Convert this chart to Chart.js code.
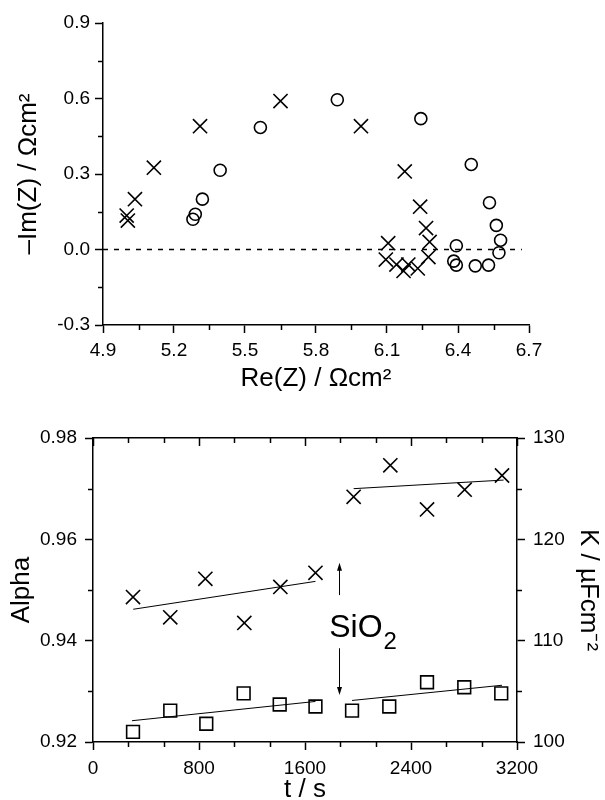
<!DOCTYPE html>
<html>
<head>
<meta charset="utf-8">
<script src="https://cdn.jsdelivr.net/npm/chart.js@4.4.1/dist/chart.umd.min.js"></script>
<style>
    html, body { margin: 0; padding: 0; background: #fff; }
    #wrap { position: relative; width: 605px; height: 800px; }
    canvas { position: absolute; left: 0; }
    #nyquist { top: 0; }
    #params { top: 400px; }
</style>
</head>
<body>
<div id="wrap">
    <canvas id="nyquist" width="605" height="400"></canvas>
    <canvas id="params" width="605" height="400"></canvas>
</div>
<script>
/* top plot: impedance spectra */
const reTicks = [4.9, 5.2, 5.5, 5.8, 6.1, 6.4, 6.7];
const imTicks = [-0.3, 0.0, 0.3, 0.6, 0.9];

const crossRe = [5.00, 5.005, 5.035, 5.115, 5.31, 5.65, 5.99, 6.175, 6.24, 6.265, 6.28, 6.105, 6.275, 6.095, 6.14, 6.17, 6.19, 6.23];
const crossIm = [0.135, 0.115, 0.20, 0.325, 0.49, 0.59, 0.49, 0.31, 0.17, 0.085, 0.03, 0.025, -0.03, -0.04, -0.06, -0.085, -0.06, -0.075];

const circleRe = [5.28, 5.29, 5.32, 5.395, 5.565, 5.89, 6.243, 6.456, 6.533, 6.562, 6.58, 6.573, 6.393, 6.382, 6.393, 6.473, 6.529];
const circleIm = [0.12, 0.14, 0.20, 0.315, 0.485, 0.595, 0.52, 0.338, 0.186, 0.096, 0.037, -0.013, 0.015, -0.046, -0.062, -0.065, -0.062];

const zeroLineRe = [4.9, 6.67];

/* bottom plot: CPE parameters vs time */
const tTicks = [0, 800, 1600, 2400, 3200];
const alphaTicks = [0.92, 0.94, 0.96, 0.98];
const kTicks = [100, 110, 120, 130];

const alphaT = [302, 583, 848, 1142, 1414, 1679, 1967, 2244, 2521, 2805, 3087];
const alphaVal = [0.9486, 0.9446, 0.9522, 0.9435, 0.9506, 0.9534, 0.9684, 0.9746, 0.9659, 0.9698, 0.9726];

const kT = [302, 583, 855, 1137, 1409, 1679, 1955, 2236, 2521, 2802, 3081];
const kVal = [101.0, 103.1, 101.8, 104.8, 103.7, 103.5, 103.1, 103.5, 105.9, 105.4, 104.8];

const alphaFit1T = [304, 1679], alphaFit1 = [0.9462, 0.9517];
const alphaFit2T = [1967, 3099], alphaFit2 = [0.9700, 0.9717];
const kFit1T = [294, 1679], kFit1 = [102.1, 104.0];
const kFit2T = [1955, 3087], kFit2 = [104.1, 105.6];

/* SiO2 addition marker */
const sio2T = 1854;
const arrowUp = [0.9490, 0.9554];
const arrowDown = [0.9385, 0.9293];
const sio2LabelT = 1783, sio2LabelAlpha = 0.9407;

const FONT = "'Liberation Sans', Arial, sans-serif";

function pts(xs, ys) {
    return xs.map(function (x, i) { return { x: x, y: ys[i] }; });
}

function midpoints(ticks, parts) {
    var out = [];
    for (var i = 0; i < ticks.length - 1; i++) {
        for (var k = 1; k < parts; k++) {
            out.push(ticks[i] + (ticks[i + 1] - ticks[i]) * k / parts);
        }
    }
    return out;
}

// extra tick marks (minor ones, and inward ones on the frame)
const tickMarks = {
    id: 'tickMarks',
    afterDraw: function (chart, args, opts) {
        var ctx = chart.ctx, area = chart.chartArea;
        ctx.save();
        ctx.strokeStyle = '#000';
        ctx.lineWidth = 1.5;
        (opts.marks || []).forEach(function (m) {
            var sc = chart.scales[m.scale];
            m.values.forEach(function (v) {
                var p = Math.round(sc.getPixelForValue(v)) + 0.5;
                ctx.beginPath();
                if (sc.isHorizontal()) {
                    var y = m.edge === 'top' ? area.top : area.bottom;
                    ctx.moveTo(p, y);
                    ctx.lineTo(p, y + m.len);
                } else {
                    var x = m.edge === 'right' ? area.right : area.left;
                    ctx.moveTo(x, p);
                    ctx.lineTo(x + m.len, p);
                }
                ctx.stroke();
            });
        });
        ctx.restore();
    }
};

const sio2Note = {
    id: 'sio2Note',
    afterDatasetsDraw: function (chart) {
        var ctx = chart.ctx;
        var x = Math.round(chart.scales.x.getPixelForValue(sio2T)) + 0.5;
        var y = chart.scales.y;
        ctx.save();
        ctx.strokeStyle = '#000';
        ctx.fillStyle = '#000';
        ctx.lineWidth = 1;
        drawArrow(ctx, x, y.getPixelForValue(arrowUp[0]), y.getPixelForValue(arrowUp[1]));
        drawArrow(ctx, x, y.getPixelForValue(arrowDown[0]), y.getPixelForValue(arrowDown[1]));

        var lx = chart.scales.x.getPixelForValue(sio2LabelT);
        var ly = y.getPixelForValue(sio2LabelAlpha);
        ctx.textBaseline = 'alphabetic';
        ctx.textAlign = 'left';
        ctx.font = '32px ' + FONT;
        ctx.fillText('SiO', lx, ly);
        var w = ctx.measureText('SiO').width;
        ctx.font = '24px ' + FONT;
        ctx.fillText('2', lx + w + 1, ly + 11.5);
        ctx.restore();
    }
};

function drawArrow(ctx, x, y0, y1) {
    var dir = y1 < y0 ? -1 : 1;
    ctx.beginPath();
    ctx.moveTo(x, y0);
    ctx.lineTo(x, y1 - dir * 6);
    ctx.stroke();
    ctx.beginPath();
    ctx.moveTo(x, y1);
    ctx.lineTo(x - 2.5, y1 - dir * 8);
    ctx.lineTo(x + 2.5, y1 - dir * 8);
    ctx.closePath();
    ctx.fill();
}

function axisTicks(values) {
    return function (scale) {
        scale.ticks = values.map(function (v) { return { value: v }; });
    };
}

const tickFont = { size: 19, family: FONT };
const titleFont = { size: 26, family: FONT, lineHeight: 1 };

function markerSet(data, style, radius) {
    return {
        data: data,
        pointStyle: style,
        pointRadius: radius,
        pointHoverRadius: radius,
        borderColor: '#000',
        backgroundColor: 'rgba(0,0,0,0)',
        pointBorderWidth: 1.6,
        showLine: false
    };
}

function lineSet(data, axis, dash, width) {
    return {
        data: data,
        yAxisID: axis,
        showLine: true,
        borderColor: '#000',
        borderWidth: width,
        borderDash: dash,
        pointRadius: 0,
        pointHoverRadius: 0,
        fill: false
    };
}

drawCharts();

function drawCharts() {
    /* draw top chart */
    new Chart(document.getElementById('nyquist'), {
        type: 'scatter',
        data: {
            datasets: [
                lineSet(pts(zeroLineRe, [0, 0]), 'y', [5, 6], 1.5),
                markerSet(pts(crossRe, crossIm), 'crossRot', 10),
                markerSet(pts(circleRe, circleIm), 'circle', 6)
            ]
        },
        options: {
            responsive: false,
            animation: false,
            devicePixelRatio: 1,
            layout: { padding: { top: 23, right: 76, left: 0, bottom: 0 } },
            plugins: {
                legend: { display: false },
                tooltip: { enabled: false },
                tickMarks: {
                    marks: [
                        { scale: 'x', edge: 'bottom', len: 5, values: midpoints(reTicks, 2) },
                        { scale: 'y', edge: 'left', len: -5, values: midpoints(imTicks, 2) }
                    ]
                }
            },
            scales: {
                x: {
                    type: 'linear',
                    min: 4.9,
                    max: 6.7,
                    afterBuildTicks: axisTicks(reTicks),
                    afterFit: function (s) { s.height = 75; },
                    grid: { drawOnChartArea: false, drawTicks: true, tickLength: 8, tickWidth: 1.5, tickColor: '#000' },
                    border: { display: true, color: '#000', width: 1.5 },
                    ticks: { color: '#000', font: tickFont, padding: 6, maxRotation: 0, autoSkip: false,
                        callback: function (v) { return v.toFixed(1); } },
                    title: { display: true, text: 'Re(Z) / Ωcm²', color: '#000', font: titleFont, padding: 8 }
                },
                y: {
                    type: 'linear',
                    min: -0.3,
                    max: 0.9,
                    afterBuildTicks: axisTicks(imTicks),
                    afterFit: function (s) { s.width = 103; },
                    grid: { drawOnChartArea: false, drawTicks: true, tickLength: 8, tickWidth: 1.5, tickColor: '#000' },
                    border: { display: true, color: '#000', width: 1.5 },
                    ticks: { color: '#000', font: tickFont, padding: 5, autoSkip: false,
                        callback: function (v) { return v.toFixed(1); } },
                    title: { display: true, text: '–Im(Z) / Ωcm²', color: '#000', font: titleFont, padding: 16 }
                }
            }
        },
        plugins: [tickMarks]
    });

    /* draw bottom chart */
    new Chart(document.getElementById('params'), {
        type: 'scatter',
        data: {
            datasets: [
                lineSet(pts(alphaFit1T, alphaFit1), 'y', [], 1),
                lineSet(pts(alphaFit2T, alphaFit2), 'y', [], 1),
                lineSet(pts(kFit1T, kFit1), 'y1', [], 1),
                lineSet(pts(kFit2T, kFit2), 'y1', [], 1),
                Object.assign(markerSet(pts(alphaT, alphaVal), 'crossRot', 10), { yAxisID: 'y' }),
                Object.assign(markerSet(pts(kT, kVal), 'rect', 9), { yAxisID: 'y1' })
            ]
        },
        options: {
            responsive: false,
            animation: false,
            devicePixelRatio: 1,
            layout: { padding: 0 },
            plugins: {
                legend: { display: false },
                tooltip: { enabled: false },
                tickMarks: {
                    marks: [
                        { scale: 'x', edge: 'bottom', len: 5, values: midpoints(tTicks, 3) },
                        { scale: 'x', edge: 'top', len: 8, values: tTicks },
                        { scale: 'x', edge: 'top', len: 5, values: midpoints(tTicks, 3) },
                        { scale: 'y', edge: 'left', len: -5, values: midpoints(alphaTicks, 2) },
                        { scale: 'y1', edge: 'right', len: 5, values: midpoints(kTicks, 2) }
                    ]
                }
            },
            scales: {
                x: {
                    type: 'linear',
                    position: 'bottom',
                    min: 0,
                    max: 3200,
                    afterBuildTicks: axisTicks(tTicks),
                    afterFit: function (s) { s.height = 58; },
                    grid: { drawOnChartArea: false, drawTicks: true, tickLength: 8, tickWidth: 1.5, tickColor: '#000' },
                    border: { display: true, color: '#000', width: 1.5 },
                    ticks: { color: '#000', font: tickFont, padding: 7, maxRotation: 0, autoSkip: false,
                        callback: function (v) { return String(v); } },
                    title: { display: true, text: 't / s', color: '#000',
                        font: { size: 26, family: FONT, lineHeight: 0.77 }, padding: 0 }
                },
                x2: {
                    type: 'linear',
                    position: 'top',
                    min: 0,
                    max: 3200,
                    afterFit: function (s) { s.height = 38; },
                    grid: { drawOnChartArea: false, drawTicks: false },
                    border: { display: true, color: '#000', width: 1.5 },
                    ticks: { display: false }
                },
                y: {
                    type: 'linear',
                    position: 'left',
                    min: 0.92,
                    max: 0.98,
                    afterBuildTicks: axisTicks(alphaTicks),
                    afterFit: function (s) { s.width = 93; },
                    grid: { drawOnChartArea: false, drawTicks: true, tickLength: 8, tickWidth: 1.5, tickColor: '#000' },
                    border: { display: true, color: '#000', width: 1.5 },
                    ticks: { color: '#000', font: tickFont, padding: 8, autoSkip: false,
                        callback: function (v) { return v.toFixed(2); } },
                    title: { display: true, text: 'Alpha', color: '#000', font: titleFont, padding: 9 }
                },
                y1: {
                    type: 'linear',
                    position: 'right',
                    min: 100,
                    max: 130,
                    afterBuildTicks: axisTicks(kTicks),
                    afterFit: function (s) { s.width = 88; },
                    grid: { drawOnChartArea: false, drawTicks: true, tickLength: 8, tickWidth: 1.5, tickColor: '#000' },
                    border: { display: true, color: '#000', width: 1.5 },
                    ticks: { color: '#000', font: tickFont, padding: 8, autoSkip: false },
                    title: { display: true, text: 'K / µFcm⁻²', color: '#000', font: titleFont, padding: 4 }
                }
            }
        },
        plugins: [tickMarks, sio2Note]
    });
}
</script>
</body>
</html>
